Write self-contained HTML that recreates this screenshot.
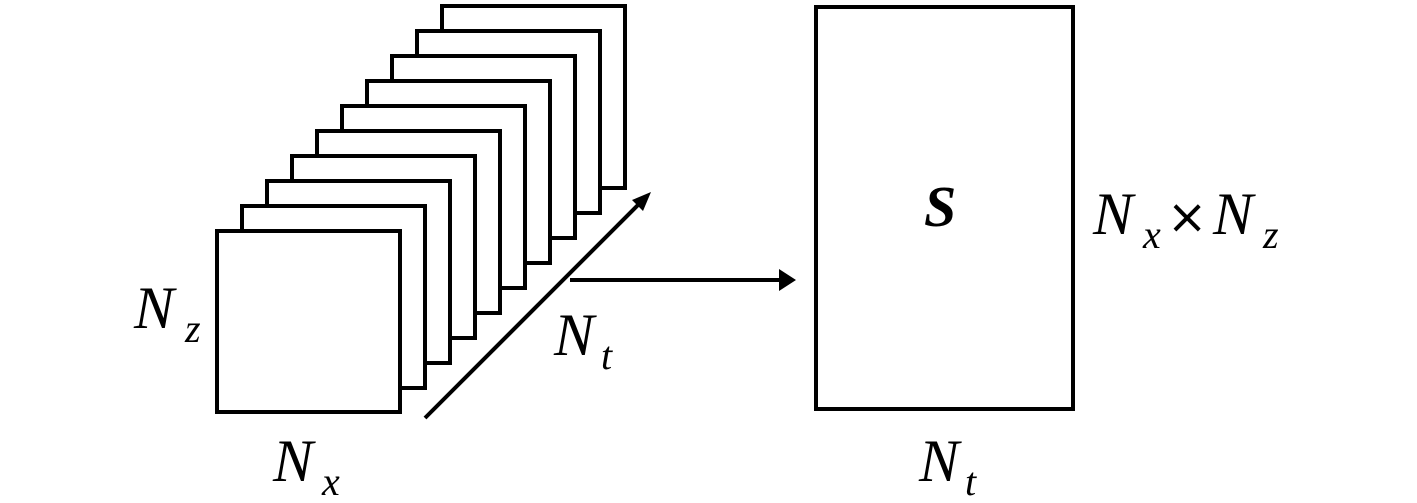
<!DOCTYPE html>
<html><head><style>body{margin:0;background:#fff}svg{display:block}</style></head><body>
<svg width="1417" height="503" viewBox="0 0 1417 503" xmlns="http://www.w3.org/2000/svg">
<g fill="#fff" stroke="#000" stroke-width="4">
<rect x="442" y="6" width="183" height="182"/>
<rect x="417" y="31" width="183" height="182"/>
<rect x="392" y="56" width="183" height="182"/>
<rect x="367" y="81" width="183" height="182"/>
<rect x="342" y="106" width="183" height="182"/>
<rect x="317" y="131" width="183" height="182"/>
<rect x="292" y="156" width="183" height="182"/>
<rect x="267" y="181" width="183" height="182"/>
<rect x="242" y="206" width="183" height="182"/>
<rect x="217" y="231" width="183" height="181"/>
<rect x="816" y="7" width="257" height="402"/>
</g>
<g stroke="#000" stroke-width="4">
<line x1="425" y1="418" x2="640" y2="203"/>
<line x1="570" y1="280" x2="780" y2="280"/>
</g>
<polygon points="651,192 632,200 643,211" fill="#000"/>
<polygon points="796,280 779,269 779,291" fill="#000"/>
<g font-family="Liberation Serif, serif" font-style="italic" fill="#000">
<text x="134" y="328" font-size="60">N</text><text x="185" y="342" font-size="40">z</text>
<text x="273" y="481" font-size="60">N</text><text x="322" y="495" font-size="40">x</text>
<text x="554" y="355" font-size="60">N</text><text x="601" y="369" font-size="40">t</text>
<text x="919" y="481" font-size="60">N</text><text x="965" y="495" font-size="40">t</text>
<text x="924" y="226" font-size="58" font-weight="bold">S</text>
<text x="1093" y="234" font-size="60">N</text><text x="1143" y="248" font-size="40">x</text>
<text x="1213" y="234" font-size="60">N</text><text x="1263" y="248" font-size="40">z</text>
</g>
<text x="1167" y="233" font-family="DejaVu Sans, sans-serif" font-size="48" fill="#000">×</text>
</svg>
</body></html>
